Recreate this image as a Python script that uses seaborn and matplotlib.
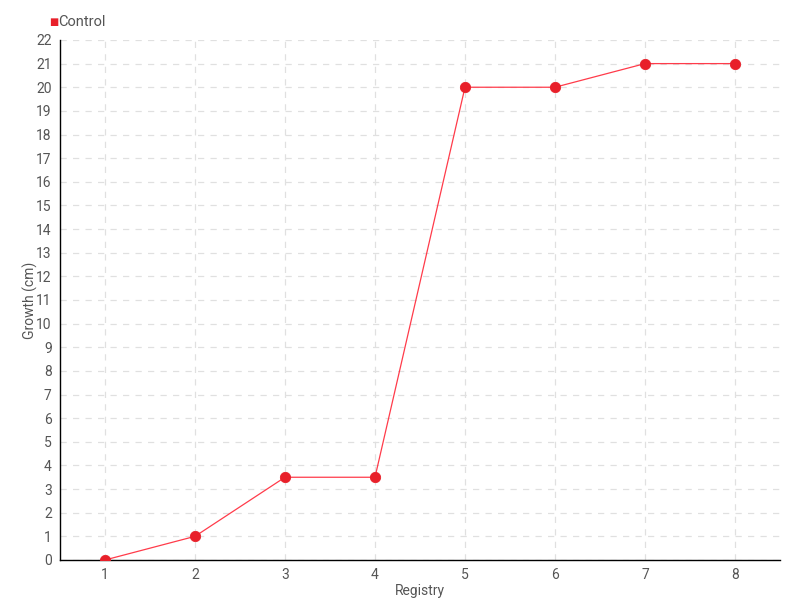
import pandas as pd
import matplotlib.pyplot as plt
import seaborn as sns

registry = [1, 2, 3, 4, 5, 6, 7, 8]
growth = [0, 1, 3.5, 3.5, 20, 20, 21, 21]
series_name = "Control"

df = pd.DataFrame({"Registry": registry, "Growth (cm)": growth})

sns.set_style("white")
plt.rcParams['font.family'] = ['Roboto', 'DejaVu Sans']

fig = plt.figure(figsize=(8, 6), dpi=100)
ax = fig.add_axes([0.075, 0.0667, 0.9, 0.8667])

sns.lineplot(data=df, x="Registry", y="Growth (cm)", ax=ax, color="#ff3b4a",
             linewidth=0.9, zorder=3)
sns.scatterplot(data=df, x="Registry", y="Growth (cm)", ax=ax, color="#e8202a",
                s=55, edgecolor="#e8202a", zorder=4, legend=False)

ax.set_xlim(0.5, 8.5)
ax.set_ylim(0, 22)
ax.set_xticks(registry)
ax.set_yticks(range(0, 23))
ax.grid(True, linestyle=(0, (5, 5)), color="#e0e0e0", linewidth=0.9)
ax.set_axisbelow(True)

for s in ["top", "right"]:
    ax.spines[s].set_visible(False)
for s in ["left", "bottom"]:
    ax.spines[s].set_color("black")
    ax.spines[s].set_linewidth(1.0)

ax.tick_params(axis="both", length=4, width=1, color="black", labelcolor="#555555",
               labelsize=10, pad=2, direction="out")
ax.set_xlabel("Registry", color="#555555", fontsize=10, labelpad=1)
ax.set_ylabel("Growth (cm)", color="#555555", fontsize=10)
ax.yaxis.set_label_coords(-0.031, 0.5)

fig.text(0.062, 0.963, "\u25a0", color="#e8202a", fontsize=7, va="center")
fig.text(0.073, 0.963, series_name, color="#555555", fontsize=10.5, va="center")

fig.savefig("out.png", dpi=100)
